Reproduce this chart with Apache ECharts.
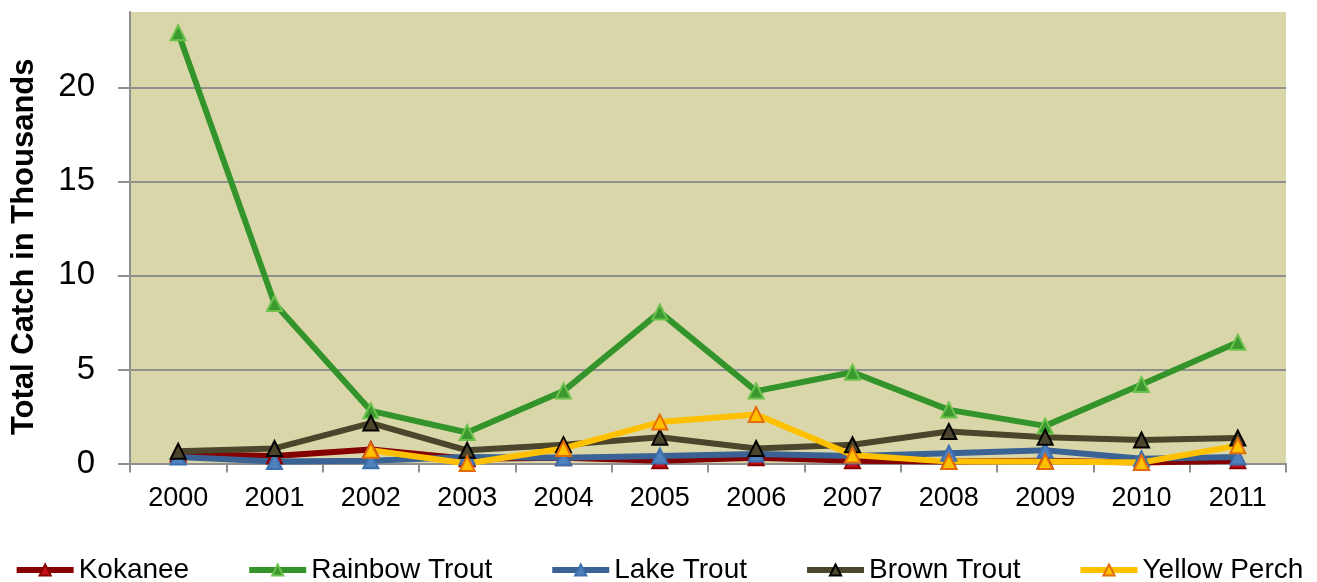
<!DOCTYPE html>
<html>
<head>
<meta charset="utf-8">
<script src="https://cdn.jsdelivr.net/npm/echarts@6/dist/echarts.min.js"></script>
<style>html,body{margin:0;padding:0;background:#fff}#c{width:1317px;height:582px}</style>
</head>
<body>
<div id="c"></div>
<script>
const years = ['2000','2001','2002','2003','2004','2005','2006','2007','2008','2009','2010','2011'];
const kokanee = [0.5, 0.4, 0.75, 0.25, 0.3, 0.15, 0.3, 0.15, 0.1, 0.15, 0.05, 0.15];
const rainbowTrout = [22.9, 8.5, 2.8, 1.65, 3.85, 8.05, 3.85, 4.85, 2.85, 2.0, 4.2, 6.45];
const lakeTrout = [0.35, 0.1, 0.15, 0.35, 0.3, 0.4, 0.5, 0.4, 0.55, 0.7, 0.25, 0.35];
const brownTrout = [0.65, 0.8, 2.15, 0.7, 1.0, 1.4, 0.8, 1.0, 1.7, 1.4, 1.25, 1.35];
const yellowPerch = [null, null, 0.7, 0.0, 0.8, 2.2, 2.6, 0.45, 0.1, 0.1, 0.05, 0.95];
const yTicks = [0, 5, 10, 15, 20];
const yMax = 24;

const FONT = '"Liberation Sans", Arial, sans-serif';
const BG = '#d9d7a9';
const GRIDC = '#8f8f8f';

function mk(name, data, lineColor, fill, border) {
  return {
    name, type: 'line', data,
    symbol: 'triangle', symbolSize: 15,
    connectNulls: false,
    lineStyle: { color: lineColor, width: 6 },
    itemStyle: { color: fill, borderColor: border, borderWidth: 2 },
    emphasis: { disabled: true },
    animation: false
  };
}

const chart = echarts.init(document.getElementById('c'));
chart.setOption({
  animation: false,
  grid: { left: 130, right: 31, top: 12, bottom: 118.5, show: true, backgroundColor: BG, borderWidth: 0 },
  legend: {
    left: 'center', top: 551,
    itemWidth: 57, itemHeight: 14, itemGap: 57,
    lineStyle: { width: 6 },
    textStyle: { fontFamily: FONT, fontSize: 28, color: '#000' },
    data: ['Kokanee', 'Rainbow Trout', 'Lake Trout', 'Brown Trout', 'Yellow Perch']
  },
  xAxis: {
    type: 'category', data: years, boundaryGap: true,
    axisLine: { lineStyle: { color: GRIDC, width: 2 } },
    axisTick: { show: true, alignWithLabel: false, length: 9, lineStyle: { color: GRIDC, width: 2 } },
    axisLabel: { fontFamily: FONT, fontSize: 27, color: '#000', margin: 22 },
    splitLine: { show: false }
  },
  yAxis: {
    type: 'value', min: 0, max: yMax, interval: 5,
    name: 'Total Catch in Thousands', nameLocation: 'middle', nameGap: 90,
    nameTextStyle: { fontFamily: FONT, fontSize: 31, fontWeight: 'bold', color: '#000', padding: [0, 18, 0, 0] },
    axisLine: { show: true, lineStyle: { color: GRIDC, width: 2 } },
    axisTick: { show: true, length: 12, customValues: yTicks, lineStyle: { color: GRIDC, width: 2 } },
    axisLabel: { fontFamily: FONT, fontSize: 33, color: '#000', margin: 35, customValues: yTicks,
      formatter: v => (yTicks.indexOf(v) >= 0 ? String(v) : '') },
    splitLine: { show: true, lineStyle: { color: [GRIDC, GRIDC, GRIDC, GRIDC, GRIDC, BG], width: 2 } }
  },
  series: [
    mk('Kokanee', kokanee, '#850000', '#c8101a', '#8b0000'),
    mk('Rainbow Trout', rainbowTrout, '#33942b', '#3a9a30', '#6dc24c'),
    mk('Lake Trout', lakeTrout, '#3a6294', '#4f81bd', '#3d6fae'),
    mk('Brown Trout', brownTrout, '#4a452b', '#4a452b', '#000000'),
    mk('Yellow Perch', yellowPerch, '#ffc000', '#ffc000', '#e46c0a')
  ]
});
</script>
</body>
</html>
